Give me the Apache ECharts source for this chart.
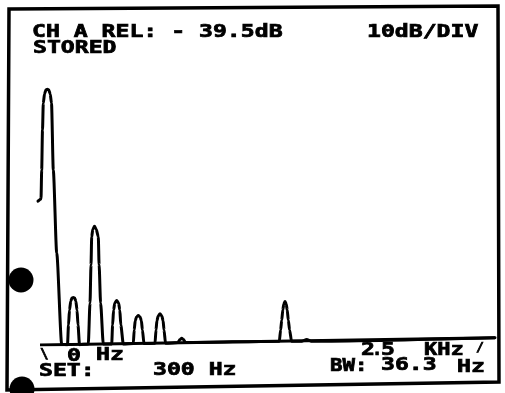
<!DOCTYPE html>
<html>
<head>
<meta charset="utf-8">
<script src="https://cdn.jsdelivr.net/npm/echarts@6/dist/echarts.min.js"></script>
<style>
  html, body { margin: 0; background: #fff; }
  #chart { width: 505px; height: 393px; }
</style>
</head>
<body>
<div id="chart"></div>
<script>
// trace points, [Hz, dB] (10 dB/div, span 0 - 2.5 kHz)
const startHook = [[22.5, -38.9]];
const peak1 = [[39.4, -38.3], [43.3, -30.0], [47.8, -18.6], [52.3, -10.9], [59.1, -8.3], [67.5, -7.1],
    [74.9, -6.9], [82.7, -7.1], [91.2, -8.3], [98.5, -10.9], [108.6, -30.0], [127.8, -53.7], [155.9, -79.8]];
const peak2 = [[188.5, -79.9], [194.2, -74.3], [199.8, -70.0], [207.1, -67.4], [213.9, -66.6], [221.2, -66.4],
    [228.5, -66.6], [235.3, -67.4], [242.1, -70.0], [247.6, -74.3], [256.1, -79.9]];
const peak3 = [[305.6, -79.7], [315.2, -68.0], [320.8, -57.1], [324.7, -49.1], [330.9, -46.9], [340.5, -46.1],
    [350.1, -46.9], [361.9, -49.1], [366.4, -57.1], [374.8, -68.0], [390.0, -79.7]];
const peak4 = [[437.3, -79.7], [442.4, -74.3], [448.0, -70.0], [454.7, -68.0], [465.4, -67.3],
    [476.1, -68.0], [482.9, -70.0], [488.5, -74.3], [502.6, -79.7]];
const peak5 = [[558.9, -79.6], [563.9, -75.7], [569.6, -73.1], [576.9, -72.0], [587.0, -71.6],
    [597.1, -72.0], [604.4, -73.1], [610.1, -75.7], [619.1, -79.6]];
const peak6 = [[681.0, -79.5], [686.6, -75.7], [691.7, -73.1], [699.0, -71.7], [709.1, -71.1],
    [719.3, -71.7], [726.6, -73.1], [731.7, -75.7], [740.1, -79.5]];
const bump1 = [[810.4, -79.3], [821.7, -78.4], [831.3, -78.1], [840.9, -78.4], [851.5, -79.3]];
const peak7 = [[1380.6, -78.9], [1387.9, -75.7], [1394.1, -72.9], [1400.2, -70.0], [1405.9, -68.3], [1412.6, -67.6],
    [1419.4, -68.3], [1425.0, -70.0], [1431.2, -72.9], [1438.5, -75.7], [1449.2, -78.9]];
const bump2 = [[1508.3, -78.9], [1534.8, -78.4], [1559.0, -78.9]];
const traceEnd = [[2594.5, -77.9]];
const floorLine = [[33.8, -80.0], [2594.5, -77.9]];

// screen readouts
const readout = 'CH A REL: - 39.5dB';
const storedText = 'STORED';
const scaleText = '10dB/DIV';
const startText = ['\\', '0', 'Hz'];
const setText = ['SET:', '300 Hz'];
const stopText = ['2', '.', '5', 'KHz', '/'];
const bwText = ['BW:', '36.3', 'Hz'];

const trace = [].concat(startHook, peak1, peak2, peak3, peak4, peak5, peak6, bump1, peak7, bump2, traceEnd);

const chart = echarts.init(document.getElementById('chart'));

function label(text, x, y, sx, size) {
    return {
        type: 'text',
        x: x,
        y: y,
        scaleX: sx || 1.36,
        z: 10,
        style: {
            text: text,
            font: 'bold ' + (size || 17) + 'px "DejaVu Sans Mono"',
            fill: '#000',
            stroke: '#000',
            lineWidth: 0.7,
            textVerticalAlign: 'middle'
        }
    };
}

const option = {
    backgroundColor: '#fff',
    animation: false,
    grid: { left: 34, right: 9, top: 65, bottom: 48 },
    xAxis: { type: 'value', min: 0, max: 2600, show: false },
    yAxis: { type: 'value', min: -80, max: 0, show: false },
    graphic: [
        {
            type: 'polygon',
            shape: { points: [[9, 9], [498, 6], [499, 382], [7, 390]] },
            style: { fill: 'none', stroke: '#000', lineWidth: 3.5 }
        },
        { type: 'circle', shape: { cx: 21, cy: 280, r: 12.5 }, style: { fill: '#000' } },
        { type: 'circle', shape: { cx: 22, cy: 389, r: 12.5 }, style: { fill: '#000' } },
        label(readout, 32, 33),
        label(storedText, 33, 49),
        label(scaleText, 367, 33),
        label(startText[0], 40, 354, 1, 14),
        label(startText[1], 67, 357),
        label(startText[2], 96, 356),
        label(setText[0], 39, 372),
        label(setText[1], 153, 370.5),
        label(stopText[0], 361, 351),
        label(stopText[1], 372, 351, 1),
        label(stopText[2], 381, 351),
        label(stopText[3], 424, 351, 1.3),
        label(stopText[4], 476, 348, 1, 13),
        label(bwText[0], 330, 367, 1.22),
        label(bwText[1], 381, 365.5, 1.36),
        label(bwText[2], 457, 368, 1.36)
    ],
    series: [
        {
            type: 'line',
            data: floorLine,
            showSymbol: false,
            silent: true,
            lineStyle: { color: '#000', width: 3 }
        },
        {
            type: 'line',
            data: trace,
            showSymbol: false,
            silent: true,
            smooth: 0.25,
            smoothMonotone: 'x',
            lineStyle: { color: '#000', width: 3, join: 'round', cap: 'round' }
        }
    ]
};

chart.setOption(option);
</script>
</body>
</html>
